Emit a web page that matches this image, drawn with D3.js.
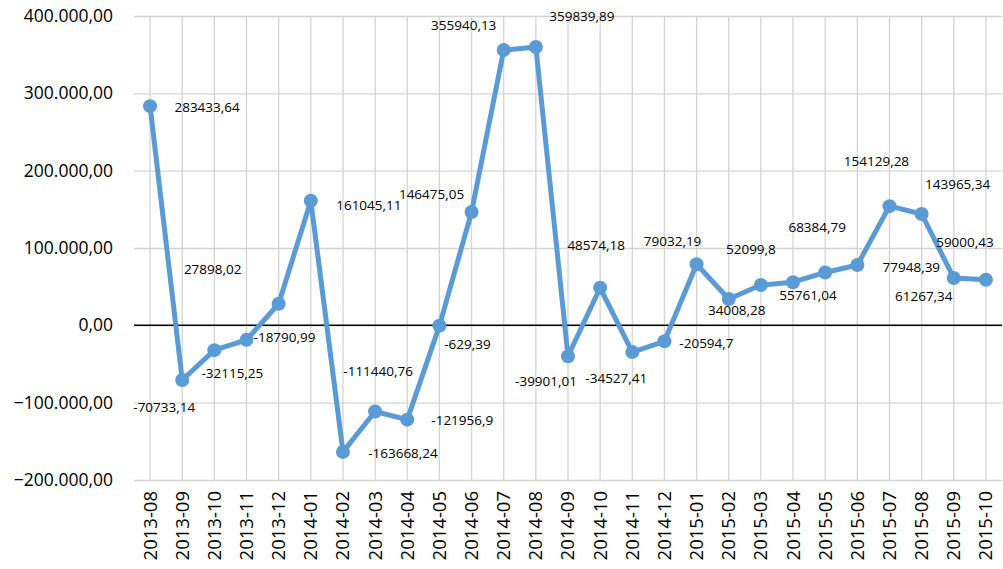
<!DOCTYPE html>
<html>
<head>
<meta charset="utf-8">
<script src="https://cdn.jsdelivr.net/npm/d3@7"></script>
<style>
    body { margin: 0; background: #fff; }
    svg text { font-family: "Open Sans", "Noto Sans", sans-serif; fill: #000; }
    .grid line { stroke: #d4d4d4; stroke-width: 1.3; }
</style>
</head>
<body>
<div id="chart"></div>
<script>
// months on the category axis
var months = ["2013-08", "2013-09", "2013-10", "2013-11", "2013-12", "2014-01", "2014-02",
    "2014-03", "2014-04", "2014-05", "2014-06", "2014-07", "2014-08", "2014-09", "2014-10",
    "2014-11", "2014-12", "2015-01", "2015-02", "2015-03", "2015-04", "2015-05", "2015-06",
    "2015-07", "2015-08", "2015-09", "2015-10"];

// monthly values (as printed in the data labels)
var values = [283433.64, -70733.14, -32115.25, -18790.99, 27898.02, 161045.11, -163668.24,
    -111440.76, -121956.9, -629.39, 146475.05, 355940.13, 359839.89, -39901.01, 48574.18,
    -34527.41, -20594.7, 79032.19, 34008.28, 52099.8, 55761.04, 68384.79, 77948.39,
    154129.28, 143965.34, 61267.34, 59000.43];

// label text, same order as values
var labels = ["283433,64", "-70733,14", "-32115,25", "-18790,99", "27898,02", "161045,11",
    "-163668,24", "-111440,76", "-121956,9", "-629,39", "146475,05", "355940,13", "359839,89",
    "-39901,01", "48574,18", "-34527,41", "-20594,7", "79032,19", "34008,28", "52099,8",
    "55761,04", "68384,79", "77948,39", "154129,28", "143965,34", "61267,34", "59000,43"];

var yTicks = [-200000, -100000, 0, 100000, 200000, 300000, 400000];

// where each data label sits relative to its point (px)
var labelOffsets = [[57, 1], [-18, 27], [18, 23], [38, -3], [-66, -34], [58, 4], [60, 1],
    [3, -40], [55, 1], [28, 18], [-40, -18], [-40, -25], [46, -31], [-22, 25], [-4, -42],
    [-16, 26], [42, 2], [-24, -23], [8, 11], [-10, -36], [15, 13], [-8, -45], [54, 2],
    [-13, -45], [36, -30], [-30, 18], [-21, -37]];

var W = 1003, H = 569;
var margin = {top: 16, right: 1, bottom: 89, left: 134};
var width = W - margin.left - margin.right;
var height = H - margin.top - margin.bottom;

var svg = d3.select("#chart").append("svg")
    .attr("width", W)
    .attr("height", H);

var g = svg.append("g")
    .attr("transform", "translate(" + margin.left + "," + margin.top + ")");

var x = d3.scaleBand()
    .domain(months)
    .range([0, width]);

var y = d3.scaleLinear()
    .domain([-200000, 400000])
    .range([height, 0]);

var locale = d3.formatLocale({decimal: ",", thousands: ".", grouping: [3], currency: ["", ""]});
var fmt = locale.format(",.2f");

function cx(d, i) { return x(months[i]) + x.bandwidth() / 2; }

// vertical gridlines through each category
g.append("g")
    .attr("class", "grid")
    .selectAll("line")
    .data(months)
    .enter().append("line")
    .attr("x1", function (d) { return x(d) + x.bandwidth() / 2; })
    .attr("x2", function (d) { return x(d) + x.bandwidth() / 2; })
    .attr("y1", 0)
    .attr("y2", height);

// horizontal gridlines
g.append("g")
    .attr("class", "grid")
    .call(d3.axisLeft(y).tickValues(yTicks).tickSize(-width).tickFormat(""))
    .call(function (s) { s.select(".domain").remove(); });

// zero line
g.append("line")
    .attr("x1", 0)
    .attr("x2", width)
    .attr("y1", y(0))
    .attr("y2", y(0))
    .attr("stroke", "#000")
    .attr("stroke-width", 1.5);

// Y axis labels
var yAxis = g.append("g")
    .call(d3.axisLeft(y).tickValues(yTicks).tickSize(0).tickPadding(21).tickFormat(fmt));
yAxis.select(".domain").remove();
yAxis.selectAll("text")
    .attr("font-size", "17.5px")
    .attr("font-family", "Open Sans");

// X axis labels
var xAxis = g.append("g")
    .attr("transform", "translate(0," + height + ")")
    .call(d3.axisBottom(x).tickSize(0).tickPadding(0));
xAxis.select(".domain").remove();
xAxis.selectAll("text")
    .attr("font-size", "18.5px")
    .attr("font-family", "Open Sans")
    .attr("text-anchor", "end")
    .attr("transform", "rotate(-90)")
    .attr("x", -11)
    .attr("y", 0)
    .attr("dy", "0.35em");

// Line
var line = d3.line()
    .x(function (d, i) { return cx(d, i); })
    .y(function (d) { return y(d); });

g.append("path")
    .datum(values)
    .attr("fill", "none")
    .attr("stroke", "#5b9bd5")
    .attr("stroke-width", 5)
    .attr("stroke-linejoin", "round")
    .attr("d", line);

// markers
g.selectAll(".dot")
    .data(values)
    .enter().append("circle")
    .attr("class", "dot")
    .attr("cx", cx)
    .attr("cy", function (d) { return y(d); })
    .attr("r", 7)
    .attr("fill", "#5b9bd5");

// data labels
g.selectAll(".value-label")
    .data(values)
    .enter().append("text")
    .attr("class", "value-label")
    .attr("x", function (d, i) { return cx(d, i) + labelOffsets[i][0]; })
    .attr("y", function (d, i) { return y(d) + labelOffsets[i][1]; })
    .attr("dy", "0.35em")
    .attr("text-anchor", "middle")
    .attr("font-size", "13.5px")
    .text(function (d, i) { return labels[i]; });
</script>
</body>
</html>
